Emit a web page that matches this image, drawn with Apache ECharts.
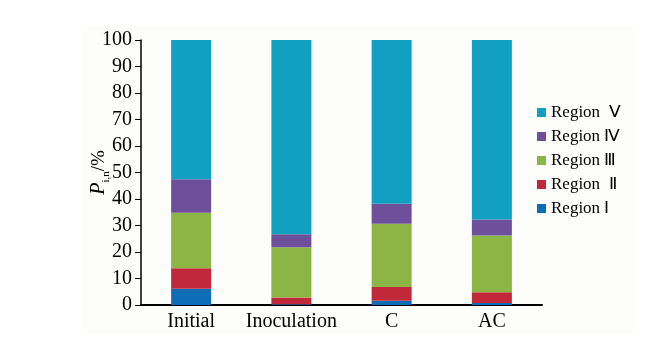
<!DOCTYPE html>
<html>
<head>
<meta charset="utf-8">
<script src="https://cdn.jsdelivr.net/npm/echarts@6/dist/echarts.min.js"></script>
<style>html,body{margin:0;padding:0;background:#fff;}#c{width:645px;height:341px;}</style>
</head>
<body>
<div id="c"></div>
<script>
var categories = ['Initial', 'Inoculation', 'C', 'AC'];
var regionI   = [6.1, 0.3, 1.6, 0.8];
var regionII  = [7.8, 2.5, 5.2, 4.0];
var regionIII = [20.9, 19.0, 23.9, 21.4];
var regionIV  = [12.7, 4.9, 7.5, 6.1];
var regionV   = [52.5, 73.3, 61.8, 67.7];
var seriesNames = ['Region Ⅰ', 'Region  Ⅱ', 'Region Ⅲ', 'Region Ⅳ', 'Region  Ⅴ'];
var seriesColors = ['#0f6db8', '#c1283a', '#8bb544', '#6d4f9a', '#11a0c2'];
var seriesData = [regionI, regionII, regionIII, regionIV, regionV];

var chart = echarts.init(document.getElementById('c'));
var serif = '"Liberation Serif", "Times New Roman", serif';
var series = seriesData.map(function (d, i) {
  return {
    name: seriesNames[i],
    type: 'bar',
    stack: 'total',
    barWidth: 40,
    data: d,
    itemStyle: { color: seriesColors[i] },
    emphasis: { disabled: true }
  };
});
chart.setOption({
  animation: false,
  backgroundColor: '#ffffff',
  graphic: [{
    type: 'rect', z: -10,
    shape: { x: 82, y: 26, width: 553, height: 309 },
    style: { fill: '#fdfdfc' }
  }],
  grid: { left: 141, right: 103, top: 40, bottom: 36 },
  legend: {
    orient: 'vertical',
    left: 532,
    top: 99,
    itemWidth: 9,
    itemHeight: 9,
    itemGap: 7,
    icon: 'rect',
    data: seriesNames.slice().reverse(),
    textStyle: { fontFamily: serif, fontSize: 17, color: '#000', lineHeight: 17 }
  },
  xAxis: {
    type: 'category',
    data: categories,
    axisLine: { lineStyle: { color: '#000', width: 2 } },
    axisTick: { show: false },
    axisLabel: { color: '#000', fontFamily: serif, fontSize: 20, margin: 7, interval: 0 }
  },
  yAxis: {
    type: 'value',
    min: 0, max: 100, interval: 10,
    splitLine: { show: false },
    axisLine: { show: true, lineStyle: { color: '#000', width: 1.5 } },
    axisTick: { show: true, length: 6, lineStyle: { color: '#000', width: 1 } },
    axisLabel: { color: '#000', fontFamily: serif, fontSize: 20, margin: 9 },
    name: '{p|P}{s|i,n}{t|/%}',
    nameLocation: 'middle',
    nameGap: 32,
    nameMoveOverlap: false,
    nameRotate: 90,
    nameTextStyle: {
      rich: {
        p: { fontFamily: serif, fontStyle: 'italic', fontSize: 20, color: '#000', verticalAlign: 'bottom' },
        s: { fontFamily: serif, fontSize: 11, color: '#000', verticalAlign: 'bottom', padding: [0,0,-3,0] },
        t: { fontFamily: serif, fontSize: 19, color: '#000', verticalAlign: 'bottom' }
      }
    }
  },
  series: series
});
</script>
</body>
</html>
